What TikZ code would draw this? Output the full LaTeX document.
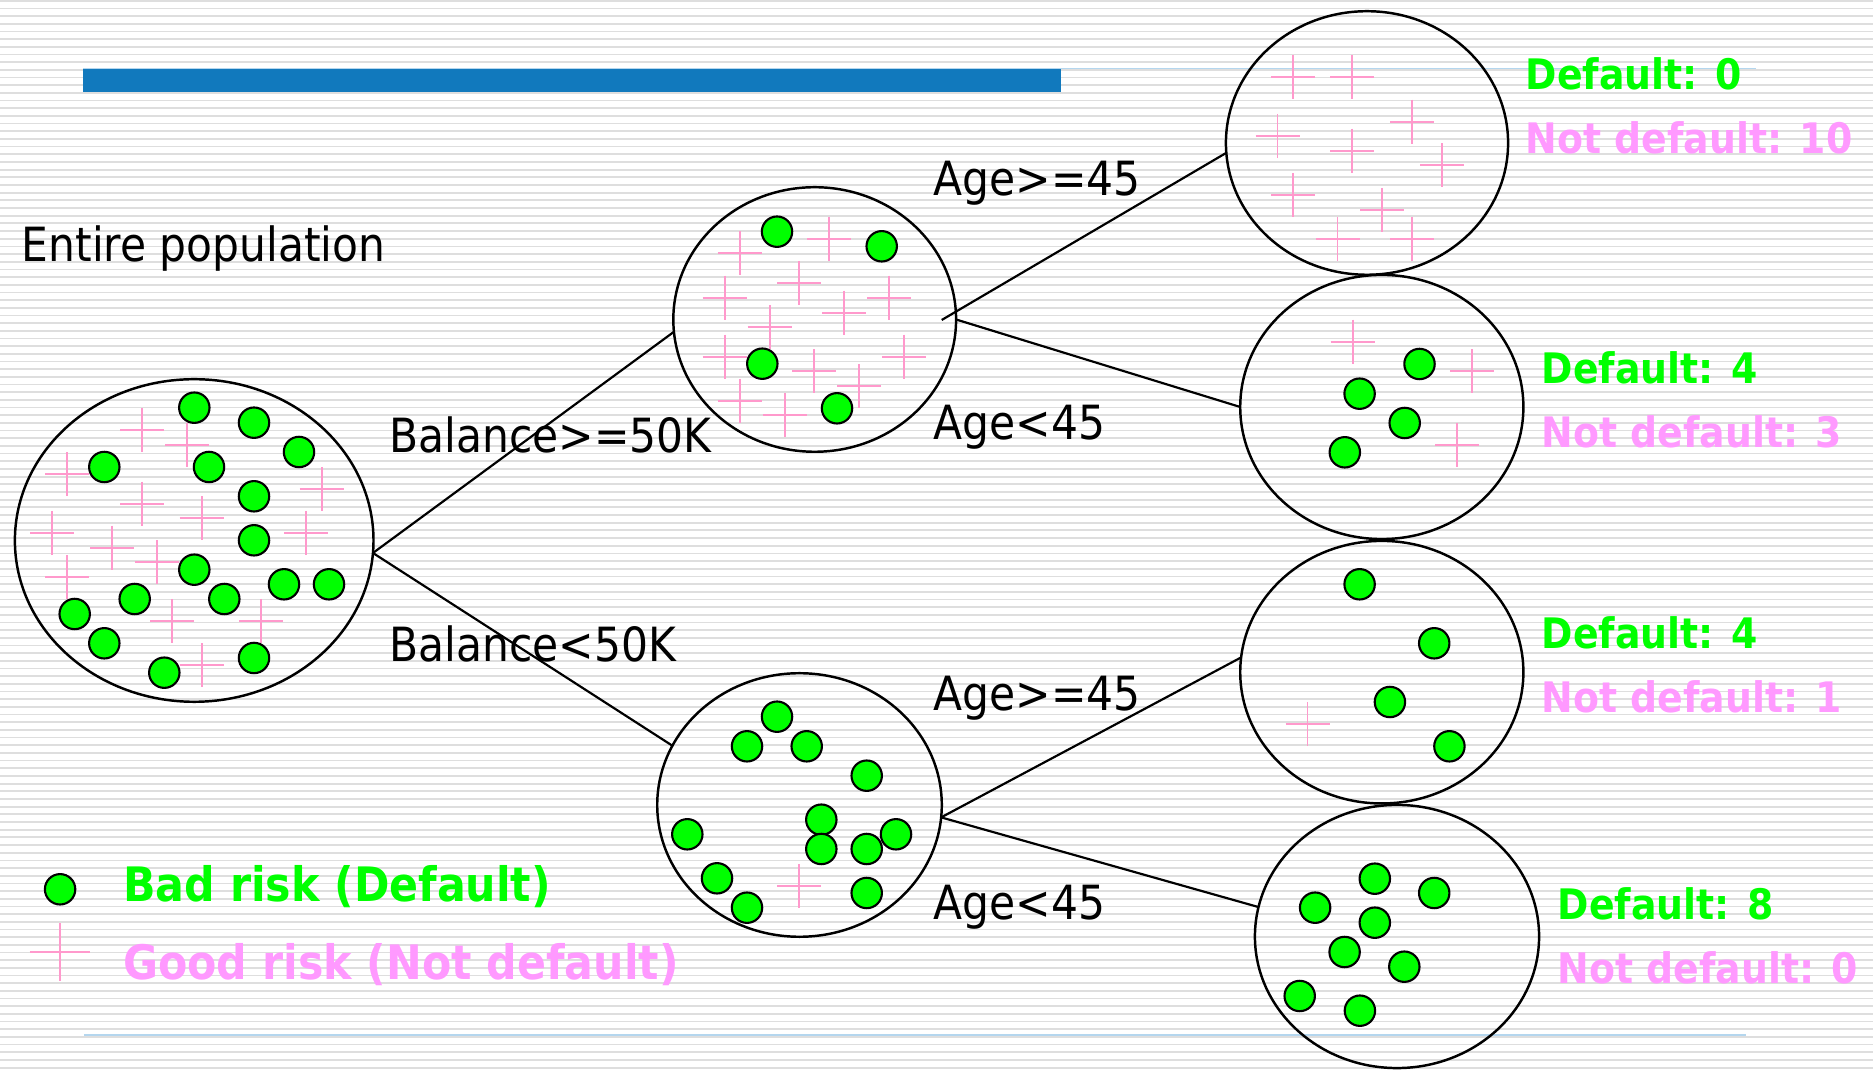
\documentclass[tikz,border=0pt]{standalone}
\usepackage{fontspec}
\usetikzlibrary{shapes.geometric}
\newfontfamily\labfont[FakeStretch=0.9]{DejaVu Sans}
\definecolor{dotgreen}{RGB}{0,255,0}
\definecolor{crosspink}{RGB}{255,153,204}
\definecolor{textpink}{RGB}{255,153,255}
\definecolor{barblue}{RGB}{17,121,189}
\definecolor{rulelight}{RGB}{180,214,238}
\definecolor{stripegray}{RGB}{222,222,222}

\begin{document}
\begin{tikzpicture}[x=0.01cm,y=-0.01cm,
  stripe/.style={draw=stripegray,line width=0.5pt},
  set/.style={ellipse,draw=black,line width=0.7pt,inner sep=0pt,outer sep=0pt},
  branch/.style={draw=black,line width=0.62pt},
  dot/.style={fill=dotgreen,draw=black,line width=0.6pt},
  cross/.style={draw=crosspink,line width=0.55pt},
  cond/.style={anchor=base west,inner sep=0pt,font=\labfont\fontsize{13.4pt}{15pt}\selectfont},
  defl/.style={anchor=base west,inner sep=0pt,text=dotgreen,font=\labfont\bfseries\fontsize{11.95pt}{14pt}\selectfont},
  ndefl/.style={defl,text=textpink},
  legd/.style={anchor=base west,inner sep=0pt,text=dotgreen,font=\labfont\bfseries\fontsize{13.5pt}{16pt}\selectfont},
  legn/.style={legd,text=textpink}]

% page and background ruling
\useasboundingbox (0,0) rectangle (1873,1071);
\fill[white] (0,0) rectangle (1873,1071);
\foreach \k in {0,...,139}
  \draw[stripe] (0,{0.8+7.675*\k}) -- (1873,{0.8+7.675*\k});

% title bar and footer rule
\draw[rulelight,line width=0.42pt] (83,68.6) -- (1756,68.6);
\fill[barblue] (83,69.5) rectangle (1061,91.6);
\draw[rulelight,line width=0.42pt] (84,1035) -- (1746,1035);

% population sets
\node[set,minimum width=3.584cm,minimum height=3.224cm] (root) at (194.2,540.5) {};
\node[set,minimum width=2.826cm,minimum height=2.644cm] (mid1) at (814.7,319.5) {};
\node[set,minimum width=2.844cm,minimum height=2.634cm] (mid2) at (799.5,805) {};
\node[set,minimum width=2.82cm,minimum height=2.634cm] (r1) at (1367,143) {};
\node[set,minimum width=2.83cm,minimum height=2.64cm] (r2) at (1381.8,407) {};
\node[set,minimum width=2.83cm,minimum height=2.624cm] (r3) at (1381.8,672.2) {};
\node[set,minimum width=2.84cm,minimum height=2.63cm] (r4) at (1397,936.5) {};

% splits
\coordinate (m1in) at (941.7,320);
\draw[branch] (root.-4.5) -- (mid1.185.9);
\draw[branch] (root.-4.5) -- (mid2.155.2);
\draw[branch] (m1in) -- (r1.184.9);
\draw[branch] (mid1.east) -- (r2.180);
\draw[branch] (mid2.-5.7) -- (r3.174.4);
\draw[branch] (mid2.-5.7) -- (r4.168.4);

% good risks
\foreach \x/\y in {142.3/430,187/445,67.3/474.3,142.3/503.7,321.7/489,201.7/518.3,52.3/533,306.3/533,112.3/547.7,156.7/562.3,67.3/577.3,172/621,261.3/621,201.7/665.3,
  739.7/253.3,829.3/239,799.3/283,724.7/297.7,889.3/297.7,844.3/312.7,769.7/327.3,724.7/356.7,904.3/356.7,814.3/371.3,859.3/386,739.7/400.7,784.7/415.3,
  799.3/886,
  1292.9/77.3,1352.4/77.3,1412/121.7,1277.5/136,1352.4/150.7,1442/165.3,1292.9/195,1382.4/210,1337.5/238.7,1412/238.7,
  1352.6/341.7,1471.9/371.3,1457.2/444.7,
  1307.5/724.3}
  \draw[cross] (\x,\y) +(-22,0) -- +(22,0) +(0,-22) -- +(0,22);

% bad risks
\foreach \x/\y in {194.3/407.7,254/422.7,299/452,104.3/467,209/467,254/496.3,254/540.3,194.3/569.7,284/584.3,329/584.3,134.7/599,224.3/599,74.7/614,104.3/643.3,164.3/672.7,254/658,
  777/231.7,881.7/246.3,762.3/363.7,837/408.3,
  777/716.7,747/746.3,806.7/746.3,866.7/775.7,821.3/819.7,687.3/834.3,896/834.3,821.3/849,866.7/849,717/878.3,866.7/893,747/907.7,
  1419.5/364,1359.6/393.7,1404.7/423,1344.8/452.3,
  1359.6/584.3,1434.2/643.3,1389.9/702,1449.4/746.3,
  1374.8/878.7,1434.2/893,1315.1/907.7,1374.8/922.7,1344.6/952,1404.3/966.7,1299.7/996,1359.9/1010.7}
  \draw[dot] (\x,\y) circle[radius=0.152cm];

% split conditions
\node[cond] (tEntire) at (21,261.6) {Entire population};
\node[cond] (tBalHi) at (389,452.7) {Balance>=50K};
\node[cond] (tBalLo) at (389,661.7) {Balance<50K};
\node[cond] (tAgeHiA) at (933,196) {Age>=45};
\node[cond] (tAgeLoA) at (933,439.6) {Age<45};
\node[cond] (tAgeHiB) at (933,710.7) {Age>=45};
\node[cond] (tAgeLoB) at (933,919.8) {Age<45};

% leaf counts
\node[defl] (d1) at (1525,90) {Default: 0};
\node[ndefl] (n1) at (1525,153.3) {Not default: 10};
\node[defl] (d2) at (1541,384) {Default: 4};
\node[ndefl] (n2) at (1541,447.3) {Not default: 3};
\node[defl] (d3) at (1541,649) {Default: 4};
\node[ndefl] (n3) at (1541,712.3) {Not default: 1};
\node[defl] (d4) at (1557,920) {Default: 8};
\node[ndefl] (n4) at (1557,984) {Not default: 0};

% legend
\draw[dot] (60.1,889.3) circle[radius=0.152cm];
\draw[cross] (59.7,952.3) +(-30,0) -- +(30,0) +(0,-29) -- +(0,29);
\node[legd] (lBad) at (122.5,901.7) {Bad risk (Default)};
\node[legn] (lGood) at (122.5,980) {Good risk (Not default)};
\end{tikzpicture}
\end{document}
